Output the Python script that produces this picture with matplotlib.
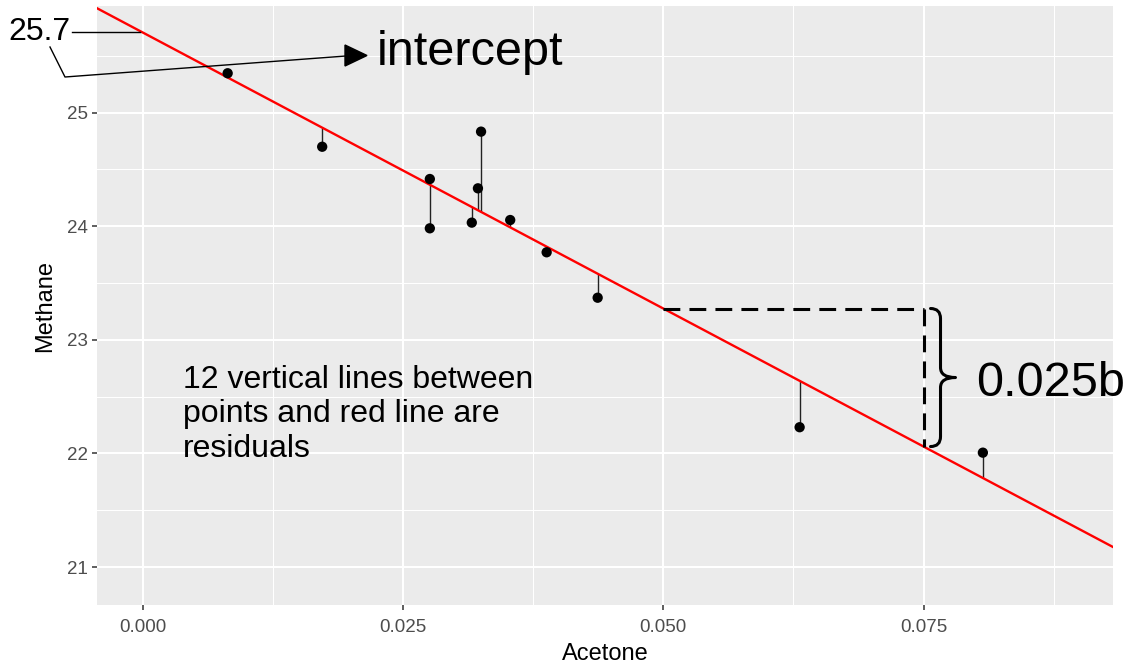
import matplotlib
matplotlib.use("Agg")
import matplotlib.pyplot as plt
from matplotlib.lines import Line2D
from matplotlib.patches import Polygon, PathPatch
from matplotlib.path import Path
import numpy as np

W, H = 1128, 670
plt.rcParams["font.family"] = ["Liberation Sans", "DejaVu Sans"]

# --- data ---
acetone = [0.00816, 0.01724, 0.02758, 0.02758, 0.03161, 0.03220,
           0.03250, 0.03530, 0.03880, 0.04370, 0.06310, 0.08070]
methane = [25.347, 24.700, 24.416, 23.982, 24.032, 24.334,
           24.833, 24.055, 23.771, 23.371, 22.231, 22.007]
intercept = 25.706
slope = -48.6
x_ticks = [0.0, 0.025, 0.05, 0.075]
x_ticklabels = ["0.000", "0.025", "0.050", "0.075"]
y_ticks = [21, 22, 23, 24, 25]
x_minor = [0.0125, 0.0375, 0.0625, 0.0875]
y_minor = [21.5, 22.5, 23.5, 24.5, 25.5]
x_limits = (-0.00439, 0.0932)
y_limits = (20.666, 25.939)
run_start, run_end = 0.05, 0.075

GREY_BG = "#EBEBEB"


def fxy(px, py):
    # reference pixel position -> figure fraction
    return px / W, 1 - py / H


fig = plt.figure(figsize=(W / 100, H / 100), dpi=100)
ax = fig.add_axes([97 / W, 1 - 605 / H, 1016 / W, 599 / H])
ax.set_facecolor(GREY_BG)
for s in ax.spines.values():
    s.set_visible(False)
ax.set_xlim(x_limits)
ax.set_ylim(y_limits)
ax.set_xticks(x_ticks, x_ticklabels)
ax.set_yticks(y_ticks)
ax.set_xticks(x_minor, minor=True)
ax.set_yticks(y_minor, minor=True)
ax.grid(which="major", color="white", lw=1.5)
ax.grid(which="minor", color="white", lw=0.75)
ax.set_axisbelow(True)
ax.tick_params(which="major", length=3.5, width=1.1, color="#333333",
               labelsize=13.5, labelcolor="#4D4D4D", pad=3)
ax.tick_params(axis="x", which="major", pad=6.5)
ax.tick_params(which="minor", length=0)
ax.set_xlabel("Acetone", fontsize=17, labelpad=5)
ax.set_ylabel("Methane", fontsize=17, labelpad=8)

# regression line + residuals + points
xs = np.array(x_limits)
ax.plot(xs, intercept + slope * xs, color="red", lw=1.7, zorder=3)
fitted = intercept + slope * np.array(acetone)
ax.vlines(acetone, methane, fitted, colors="#222222", lw=1.0, zorder=2)
ax.scatter(acetone, methane, s=55, color="black", edgecolors="none", zorder=4)

# rise over run (dashed)
y_run = intercept + slope * run_start
y_end = intercept + slope * run_end
dash = (0, (5.5, 3))
ax.plot([run_start, run_end], [y_run, y_run], color="black", lw=2.2, ls=dash, zorder=3)
ax.plot([run_end, run_end], [y_run, y_end], color="black", lw=2.2, ls=dash, zorder=3)

# curly brace next to the vertical dashed line
dxp = 0.025 / 260.4
dyp = 1 / 113.6
x0, w, r = run_end + 7 * dxp, 10 * dxp, 10 * dyp
ymid = (y_run + y_end) / 2
verts = [(x0, y_run), (x0 + w, y_run), (x0 + w, y_run - r),
         (x0 + w, ymid + r),
         (x0 + w, ymid), (x0 + 2.5 * w, ymid),
         (x0 + w, ymid), (x0 + w, ymid - r),
         (x0 + w, y_end + r),
         (x0 + w, y_end), (x0, y_end)]
codes = [Path.MOVETO, Path.CURVE3, Path.CURVE3, Path.LINETO,
         Path.CURVE3, Path.CURVE3, Path.CURVE3, Path.CURVE3,
         Path.LINETO, Path.CURVE3, Path.CURVE3]
ax.add_patch(PathPatch(Path(verts, codes), fill=False, lw=2.2, edgecolor="black",
                       capstyle="round", joinstyle="round", clip_on=False, zorder=5))

# annotations
fig.text(*fxy(8, 40), "25.7", fontsize=23, va="baseline", ha="left")
fig.text(*fxy(377, 65), "intercept", fontsize=35, va="baseline", ha="left")
fig.text(*fxy(976, 396), "0.025b", fontsize=35, va="baseline", ha="left")
for line, base in zip(["12 vertical lines between", "points and red line are", "residuals"],
                      [388.3, 421.7, 456.7]):
    fig.text(*fxy(183, base), line, fontsize=23, va="baseline", ha="left")

p = [fxy(72, 32), fxy(140, 32)]
fig.add_artist(Line2D([p[0][0], p[1][0]], [p[0][1], p[1][1]], color="black", lw=1.0))
p = [fxy(50, 47), fxy(65, 77), fxy(346, 56)]
fig.add_artist(Line2D([q[0] for q in p], [q[1] for q in p], color="black", lw=1.0))
fig.add_artist(Polygon([fxy(345, 45), fxy(345, 66), fxy(367, 55.5)], closed=True,
                       color="black", transform=fig.transFigure))

fig.savefig("out.png", dpi=100, facecolor="white")
